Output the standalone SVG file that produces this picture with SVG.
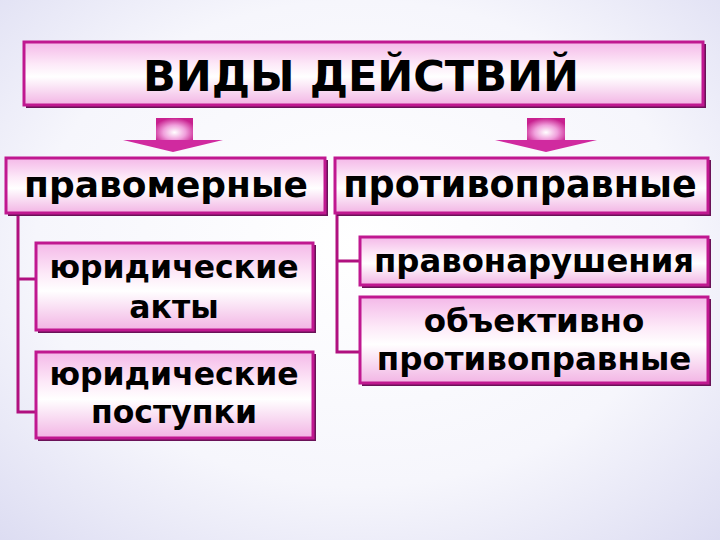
<svg xmlns="http://www.w3.org/2000/svg" width="720" height="540" viewBox="0 0 720 540">
<defs>
<radialGradient id="bg" cx="50%" cy="45%" r="75%">
<stop offset="0" stop-color="#ffffff"/>
<stop offset="0.6" stop-color="#f6f6fc"/>
<stop offset="1" stop-color="#dcdcf2"/>
</radialGradient>
<linearGradient id="box" x1="0" y1="0" x2="0" y2="1">
<stop offset="0" stop-color="#f4b8e8"/>
<stop offset="0.35" stop-color="#fde9f8"/>
<stop offset="0.55" stop-color="#ffffff"/>
<stop offset="1" stop-color="#f2b4e4"/>
</linearGradient>
<radialGradient id="sq" cx="50%" cy="60%" r="60%">
<stop offset="0" stop-color="#ffffff"/>
<stop offset="0.5" stop-color="#f0a0dc"/>
<stop offset="1" stop-color="#c8208f"/>
</radialGradient>
</defs>
<style>
.b{fill:url(#box);stroke:#c01890;stroke-width:3}
.sh{fill:none;stroke:#6a1258;stroke-width:2}
.t{font-family:"DejaVu Sans",Verdana,sans-serif;font-weight:bold;fill:#000;text-anchor:middle}
.c{fill:none;stroke:#b0107f;stroke-width:3}
.tri{fill:#d02a9f}
</style>
<rect width="720" height="540" fill="url(#bg)"/>
<g id="connectors">
<polyline class="c" points="18,213 18,412 36,412"/>
<line class="c" x1="18" y1="279" x2="36" y2="279"/>
<polyline class="c" points="337,213 337,352 360,352"/>
<line class="c" x1="337" y1="261" x2="360" y2="261"/>
<g id="arrow-left">
<rect x="156" y="118" width="37" height="24" fill="url(#sq)"/>
<polygon class="tri" points="123,140 223,140 173,152"/>
</g>
<g id="arrow-right">
<rect x="527" y="118" width="38" height="24" fill="url(#sq)"/>
<polygon class="tri" points="495,140 597,140 546,152"/>
</g>
</g>
<g id="title">
<polyline class="sh" points="705,44 705,107 26,107"/>
<rect class="b" x="24" y="42" width="679" height="63"/>
<text class="t" x="361" y="91" font-size="43">ВИДЫ ДЕЙСТВИЙ</text>
</g>
<g id="pravomernye">
<polyline class="sh" points="327,160 327,215 8,215"/>
<rect class="b" x="6" y="158" width="319" height="55"/>
<text class="t" x="166" y="197" font-size="36">правомерные</text>
</g>
<g id="protivopravnye">
<polyline class="sh" points="710,160 710,215 337,215"/>
<rect class="b" x="335" y="158" width="373" height="55"/>
<text class="t" x="520" y="197" font-size="36.5">противоправные</text>
</g>
<g id="akty">
<polyline class="sh" points="315,245 315,332 38,332"/>
<rect class="b" x="36" y="243" width="277" height="87"/>
<text class="t" x="174" y="278" font-size="31.5">юридические</text>
<text class="t" x="174" y="318" font-size="31.5">акты</text>
</g>
<g id="postupki">
<polyline class="sh" points="315,354 315,440 38,440"/>
<rect class="b" x="36" y="352" width="277" height="86"/>
<text class="t" x="174" y="385" font-size="31.5">юридические</text>
<text class="t" x="174" y="423" font-size="31.5">поступки</text>
</g>
<g id="pravonarusheniya">
<polyline class="sh" points="710,239 710,287 362,287"/>
<rect class="b" x="360" y="237" width="348" height="48"/>
<text class="t" x="534" y="272" font-size="32.3">правонарушения</text>
</g>
<g id="obektivno">
<polyline class="sh" points="710,299 710,385 362,385"/>
<rect class="b" x="360" y="297" width="348" height="86"/>
<text class="t" x="534" y="332" font-size="32.5">объективно</text>
<text class="t" x="534" y="370" font-size="32.5">противоправные</text>
</g>
</svg>
